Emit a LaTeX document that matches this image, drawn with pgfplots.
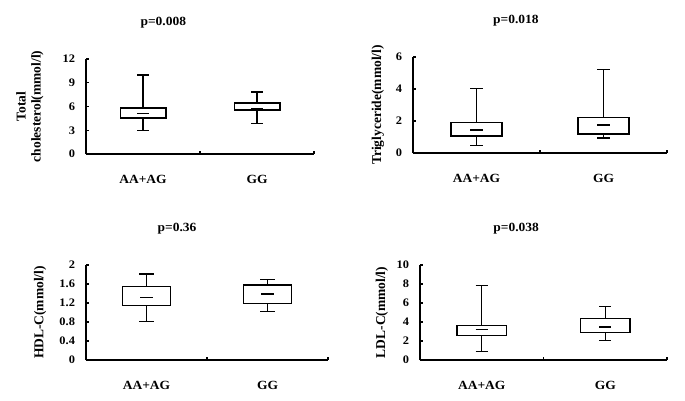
\documentclass[border=0pt]{standalone}
\usepackage{fontspec}
\setmainfont{Liberation Serif}
\newfontfamily\stretchfont{Liberation Serif}[FakeStretch=1.08]
\usepackage{pgfplots}
\usepgfplotslibrary{statistics}
\pgfplotsset{compat=1.18}
\pgfplotsset{
  mypanel/.style={
    scale only axis,
    axis x line*=bottom, axis y line*=left,
    axis line style={line width=1.4pt,-},
    every tick/.style={black, line width=1.3pt},
    tick align=inside, major tick length=3pt,
    xmin=0, xmax=2,
    xtick={1,2}, xticklabels={},
    extra x ticks={0.5,1.5}, extra x tick labels={AA+AG,GG},
    extra x tick style={major tick length=0pt},
    xticklabel style={font=\stretchfont\bfseries\fontsize{12.5}{14}\selectfont, yshift=-17.5pt},
    yticklabel style={font=\stretchfont\bfseries\fontsize{11.5}{13}\selectfont, xshift=-7.5pt},
    /pgf/number format/assume math mode=true,
    title style={font=\stretchfont\bfseries\fontsize{12.5}{14}\selectfont, anchor=center, yshift=30pt},
    boxplot/draw direction=y,
    boxplot/draw/median/.code={%
      \draw[/pgfplots/boxplot/every median/.try]
        (boxplot box cs:\pgfplotsboxplotvalue{median},0.375) --
        (boxplot box cs:\pgfplotsboxplotvalue{median},0.625);
    },
  },
  ylab/.style={ylabel style={at={(axis description cs:#1,0.5)}, rotate=0, anchor=center,
     font=\bfseries\fontsize{13.5}{15}\selectfont, align=center}},
  mybox/.style={draw=black, fill=white, line width=1.4pt, mark=none, solid},
}
\begin{document}
\begin{tikzpicture}
\useasboundingbox (0,0) rectangle (685pt,400pt);
% Panel 1
\begin{axis}[mypanel, at={(86pt,246pt)}, anchor=south west, width=228pt, height=95pt,
  ymin=0, ymax=12, ytick={0,3,6,9,12}, yticklabels={0,3,6,9,12},
  ylabel={Total\\cholesterol(mmol/l)}, ylab=-0.2456,
  title={p=0.008}, every axis title/.append style={at={(axis description cs:0.339,1)}}]
\addplot[mybox, boxplot prepared={draw position=0.5, lower whisker=2.95, lower quartile=4.57,
  median=5.12, upper quartile=5.83, upper whisker=9.99, box extend=0.4, whisker extend=0.1}] coordinates {};
\addplot[mybox, boxplot prepared={draw position=1.5, lower whisker=3.86, lower quartile=5.54,
  median=5.66, upper quartile=6.42, upper whisker=7.85, box extend=0.4, whisker extend=0.1}] coordinates {};
\end{axis}
% Panel 2
\begin{axis}[mypanel, at={(413pt,247pt)}, anchor=south west, width=254pt, height=96pt,
  ymin=0, ymax=6, ytick={0,2,4,6}, yticklabels={0,2,4,6},
  ylabel={Triglyceride(mmol/l)}, ylab=-0.138,
  title={p=0.018}, every axis title/.append style={at={(axis description cs:0.405,1)}}]
\addplot[mybox, boxplot prepared={draw position=0.5, lower whisker=0.48, lower quartile=1.06,
  median=1.45, upper quartile=1.92, upper whisker=4.03, box extend=0.4, whisker extend=0.1}] coordinates {};
\addplot[mybox, boxplot prepared={draw position=1.5, lower whisker=0.93, lower quartile=1.18,
  median=1.76, upper quartile=2.21, upper whisker=5.23, box extend=0.4, whisker extend=0.1}] coordinates {};
\end{axis}
% Panel 3
\begin{axis}[mypanel, at={(86pt,40pt)}, anchor=south west, width=242pt, height=95pt,
  ymin=0, ymax=2, ytick={0,0.4,0.8,1.2,1.6,2}, yticklabels={0,0.4,0.8,1.2,1.6,2},
  ylabel={HDL-C(mmol/l)}, ylab=-0.19,
  title={p=0.36}, every axis title/.append style={at={(axis description cs:0.376,1)}}]
\addplot[mybox, boxplot prepared={draw position=0.5, lower whisker=0.81, lower quartile=1.143,
  median=1.31, upper quartile=1.547, upper whisker=1.81, box extend=0.4, whisker extend=0.12}] coordinates {};
\addplot[mybox, boxplot prepared={draw position=1.5, lower whisker=1.017, lower quartile=1.185,
  median=1.387, upper quartile=1.575, upper whisker=1.70, box extend=0.4, whisker extend=0.12}] coordinates {};
\end{axis}
% Panel 4
\begin{axis}[mypanel, at={(420pt,40pt)}, anchor=south west, width=247pt, height=95pt,
  ymin=0, ymax=10, ytick={0,2,4,6,8,10}, yticklabels={0,2,4,6,8,10},
  ylabel={LDL-C(mmol/l)}, ylab=-0.154,
  title={p=0.038}, every axis title/.append style={at={(axis description cs:0.389,1)}}]
\addplot[mybox, boxplot prepared={draw position=0.5, lower whisker=0.9, lower quartile=2.6,
  median=3.19, upper quartile=3.61, upper whisker=7.85, box extend=0.4, whisker extend=0.1}] coordinates {};
\addplot[mybox, boxplot prepared={draw position=1.5, lower whisker=2.08, lower quartile=2.92,
  median=3.47, upper quartile=4.34, upper whisker=5.66, box extend=0.4, whisker extend=0.1}] coordinates {};
\end{axis}
\end{tikzpicture}
\end{document}
